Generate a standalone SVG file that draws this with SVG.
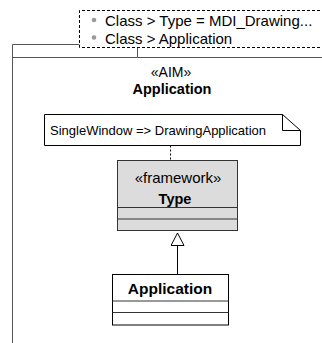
<svg xmlns="http://www.w3.org/2000/svg" width="322" height="343" viewBox="0 0 322 343">
  <style>
    text { font-family: "Liberation Sans", Arial, sans-serif; fill: #000; }
    .bold { font-weight: bold; }
    .mid { text-anchor: middle; }
    .pkg { fill: #fff; stroke: #555; stroke-width: 1; }
    .cls { fill: #fff; stroke: #000; stroke-width: 1; }
    .fw { fill: #dcdcdc; stroke: #333; stroke-width: 1; }
    .sep { stroke: #333; stroke-width: 1; fill: none; }
    .dash { fill: #fff; stroke: #000; stroke-width: 1; stroke-dasharray: 3 2; }
    .edge { stroke: #000; stroke-width: 1; fill: none; }
    .bullet { fill: #999; }
  </style>
  <defs>
    <!-- hollow generalization head, apex at the line end -->
    <marker id="gen" viewBox="0 0 14 14" refX="13" refY="7" markerWidth="14" markerHeight="14" markerUnits="userSpaceOnUse" orient="auto">
      <path d="M13,7 L0.5,0.5 L0.5,13.5 Z" fill="#fff" stroke="#000" stroke-width="1"/>
    </marker>
  </defs>
  <rect width="322" height="343" fill="#fff"/>

  <!-- package frame with tab -->
  <g id="pkg-Application">
    <path class="pkg" d="M12.5,343 V44.5 H137.5 V57.5 H330 M12.5,57.5 H137.5"/>
    <text class="mid" x="171" y="77" font-size="14">«AIM»</text>
    <text class="mid bold" x="172" y="94" font-size="14.5">Application</text>
  </g>

  <!-- reference list in dashed box -->
  <g id="refs">
    <path class="dash" d="M330,10.5 H79.5 V47.5 H330"/>
    <circle class="bullet" cx="94" cy="20" r="2.3"/>
    <circle class="bullet" cx="94" cy="37.5" r="2.3"/>
    <text x="105" y="26" font-size="15">Class &gt; Type = MDI_Drawing...</text>
    <text x="105" y="43.5" font-size="15">Class &gt; Application</text>
  </g>

  <!-- note -->
  <g id="note">
    <path class="cls" d="M44.5,114.5 H282.5 L300.5,130.5 V145.5 H44.5 Z"/>
    <path class="edge" d="M282.5,114.5 V130.5 H300.5"/>
    <text x="50" y="135" font-size="13">SingleWindow =&gt; DrawingApplication</text>
  </g>

  <!-- framework class Type -->
  <g id="Type">
    <rect class="fw" x="117.5" y="160.5" width="120" height="70"/>
    <line class="sep" x1="117.5" y1="207.5" x2="237.5" y2="207.5"/>
    <line class="sep" x1="117.5" y1="219" x2="237.5" y2="219"/>
    <text class="mid" x="178" y="183" font-size="15">«framework»</text>
    <text class="mid bold" x="175" y="204" font-size="14.5">Type</text>
  </g>

  <!-- class Application -->
  <g id="Application">
    <rect class="cls" x="112.5" y="274.5" width="116" height="50.5"/>
    <line class="sep" x1="112.5" y1="301" x2="228.5" y2="301"/>
    <line class="sep" x1="112.5" y1="312.5" x2="228.5" y2="312.5"/>
    <text class="mid bold" x="170" y="294" font-size="15.5">Application</text>
  </g>

  <!-- connectors -->
  <g id="connectors">
    <line class="edge" x1="170.5" y1="145.5" x2="170.5" y2="160.5" stroke-dasharray="2 2"/>
    <line class="edge" x1="177.5" y1="274.5" x2="177.5" y2="233" marker-end="url(#gen)"/>
  </g>
</svg>
